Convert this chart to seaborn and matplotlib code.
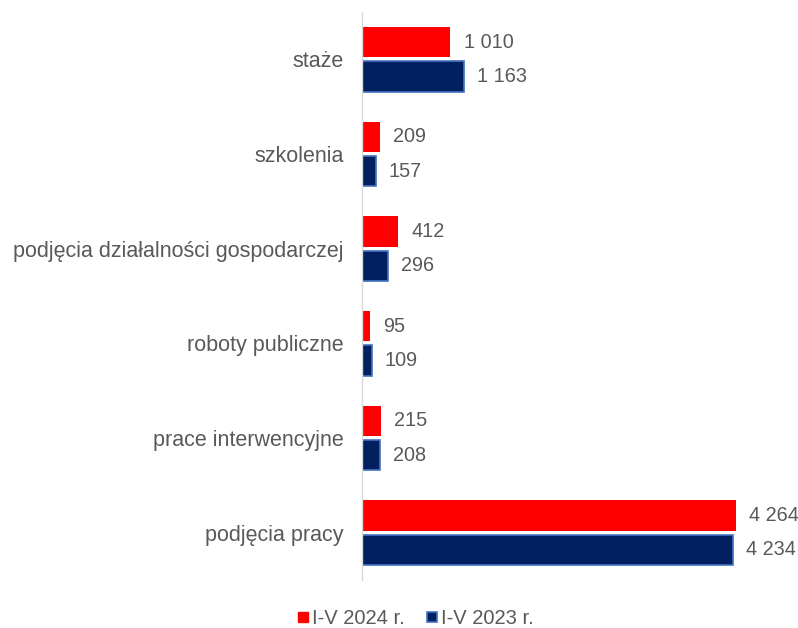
import matplotlib.pyplot as plt
import seaborn as sns
import pandas as pd
from matplotlib.lines import Line2D

categories = ['staże', 'szkolenia', 'podjęcia działalności gospodarczej',
              'roboty publiczne', 'prace interwencyjne', 'podjęcia pracy']
values_2024 = [1010, 209, 412, 95, 215, 4264]
values_2023 = [1163, 157, 296, 109, 208, 4234]
series = ['I-V 2024 r.', 'I-V 2023 r.']

df = pd.DataFrame({
    'kategoria': categories * 2,
    'wartosc': values_2024 + values_2023,
    'okres': [series[0]] * len(categories) + [series[1]] * len(categories),
})

sns.set_style('white')
plt.rcParams['font.family'] = ['Liberation Sans', 'DejaVu Sans']
text_color = '#595959'
red = '#FF0000'
navy = '#002060'
navy_edge = '#4472C4'

fig = plt.figure(figsize=(7.98, 6.28), dpi=100)
ax = fig.add_axes([0.4536, 0.0764, 0.536, 0.9045])

sns.barplot(data=df, y='kategoria', x='wartosc', hue='okres', order=categories,
            hue_order=series, palette=[red, navy], width=0.73, gap=0.12,
            orient='h', ax=ax, legend=False, saturation=1)

# navy bars get a thin blue outline
for bar in ax.containers[1]:
    bar.set_edgecolor(navy_edge)
    bar.set_linewidth(1.2)
for bar in ax.containers[0]:
    bar.set_linewidth(0)

fmt = lambda v: f'{int(round(v)):,}'.replace(',', ' ')
for cont in ax.containers:
    ax.bar_label(cont, labels=[fmt(v) for v in cont.datavalues], padding=9.5,
                 fontsize=14.3, color=text_color)

ax.set_xlim(0, 4880)
ax.set_xlabel('')
ax.set_ylabel('')
ax.set_xticks([])
ax.tick_params(axis='y', length=0, pad=13, labelsize=15.5, labelcolor=text_color)
for s in ['top', 'right', 'bottom']:
    ax.spines[s].set_visible(False)
ax.spines['left'].set_color('#D9D9D9')
ax.spines['left'].set_linewidth(1)

handles = [
    Line2D([], [], marker='s', linestyle='', markersize=7.5, markerfacecolor=red, markeredgecolor=red),
    Line2D([], [], marker='s', linestyle='', markersize=7.5, markerfacecolor=navy,
           markeredgecolor=navy_edge, markeredgewidth=1.2),
]
leg = fig.legend(handles, series, loc='center', bbox_to_anchor=(0.52, 0.015), ncol=2,
                 frameon=False, fontsize=14.5, handletextpad=0.1, columnspacing=1.0,
                 handlelength=0.7, borderpad=0)
for t in leg.get_texts():
    t.set_color(text_color)

fig.savefig('out.png', dpi=100)
